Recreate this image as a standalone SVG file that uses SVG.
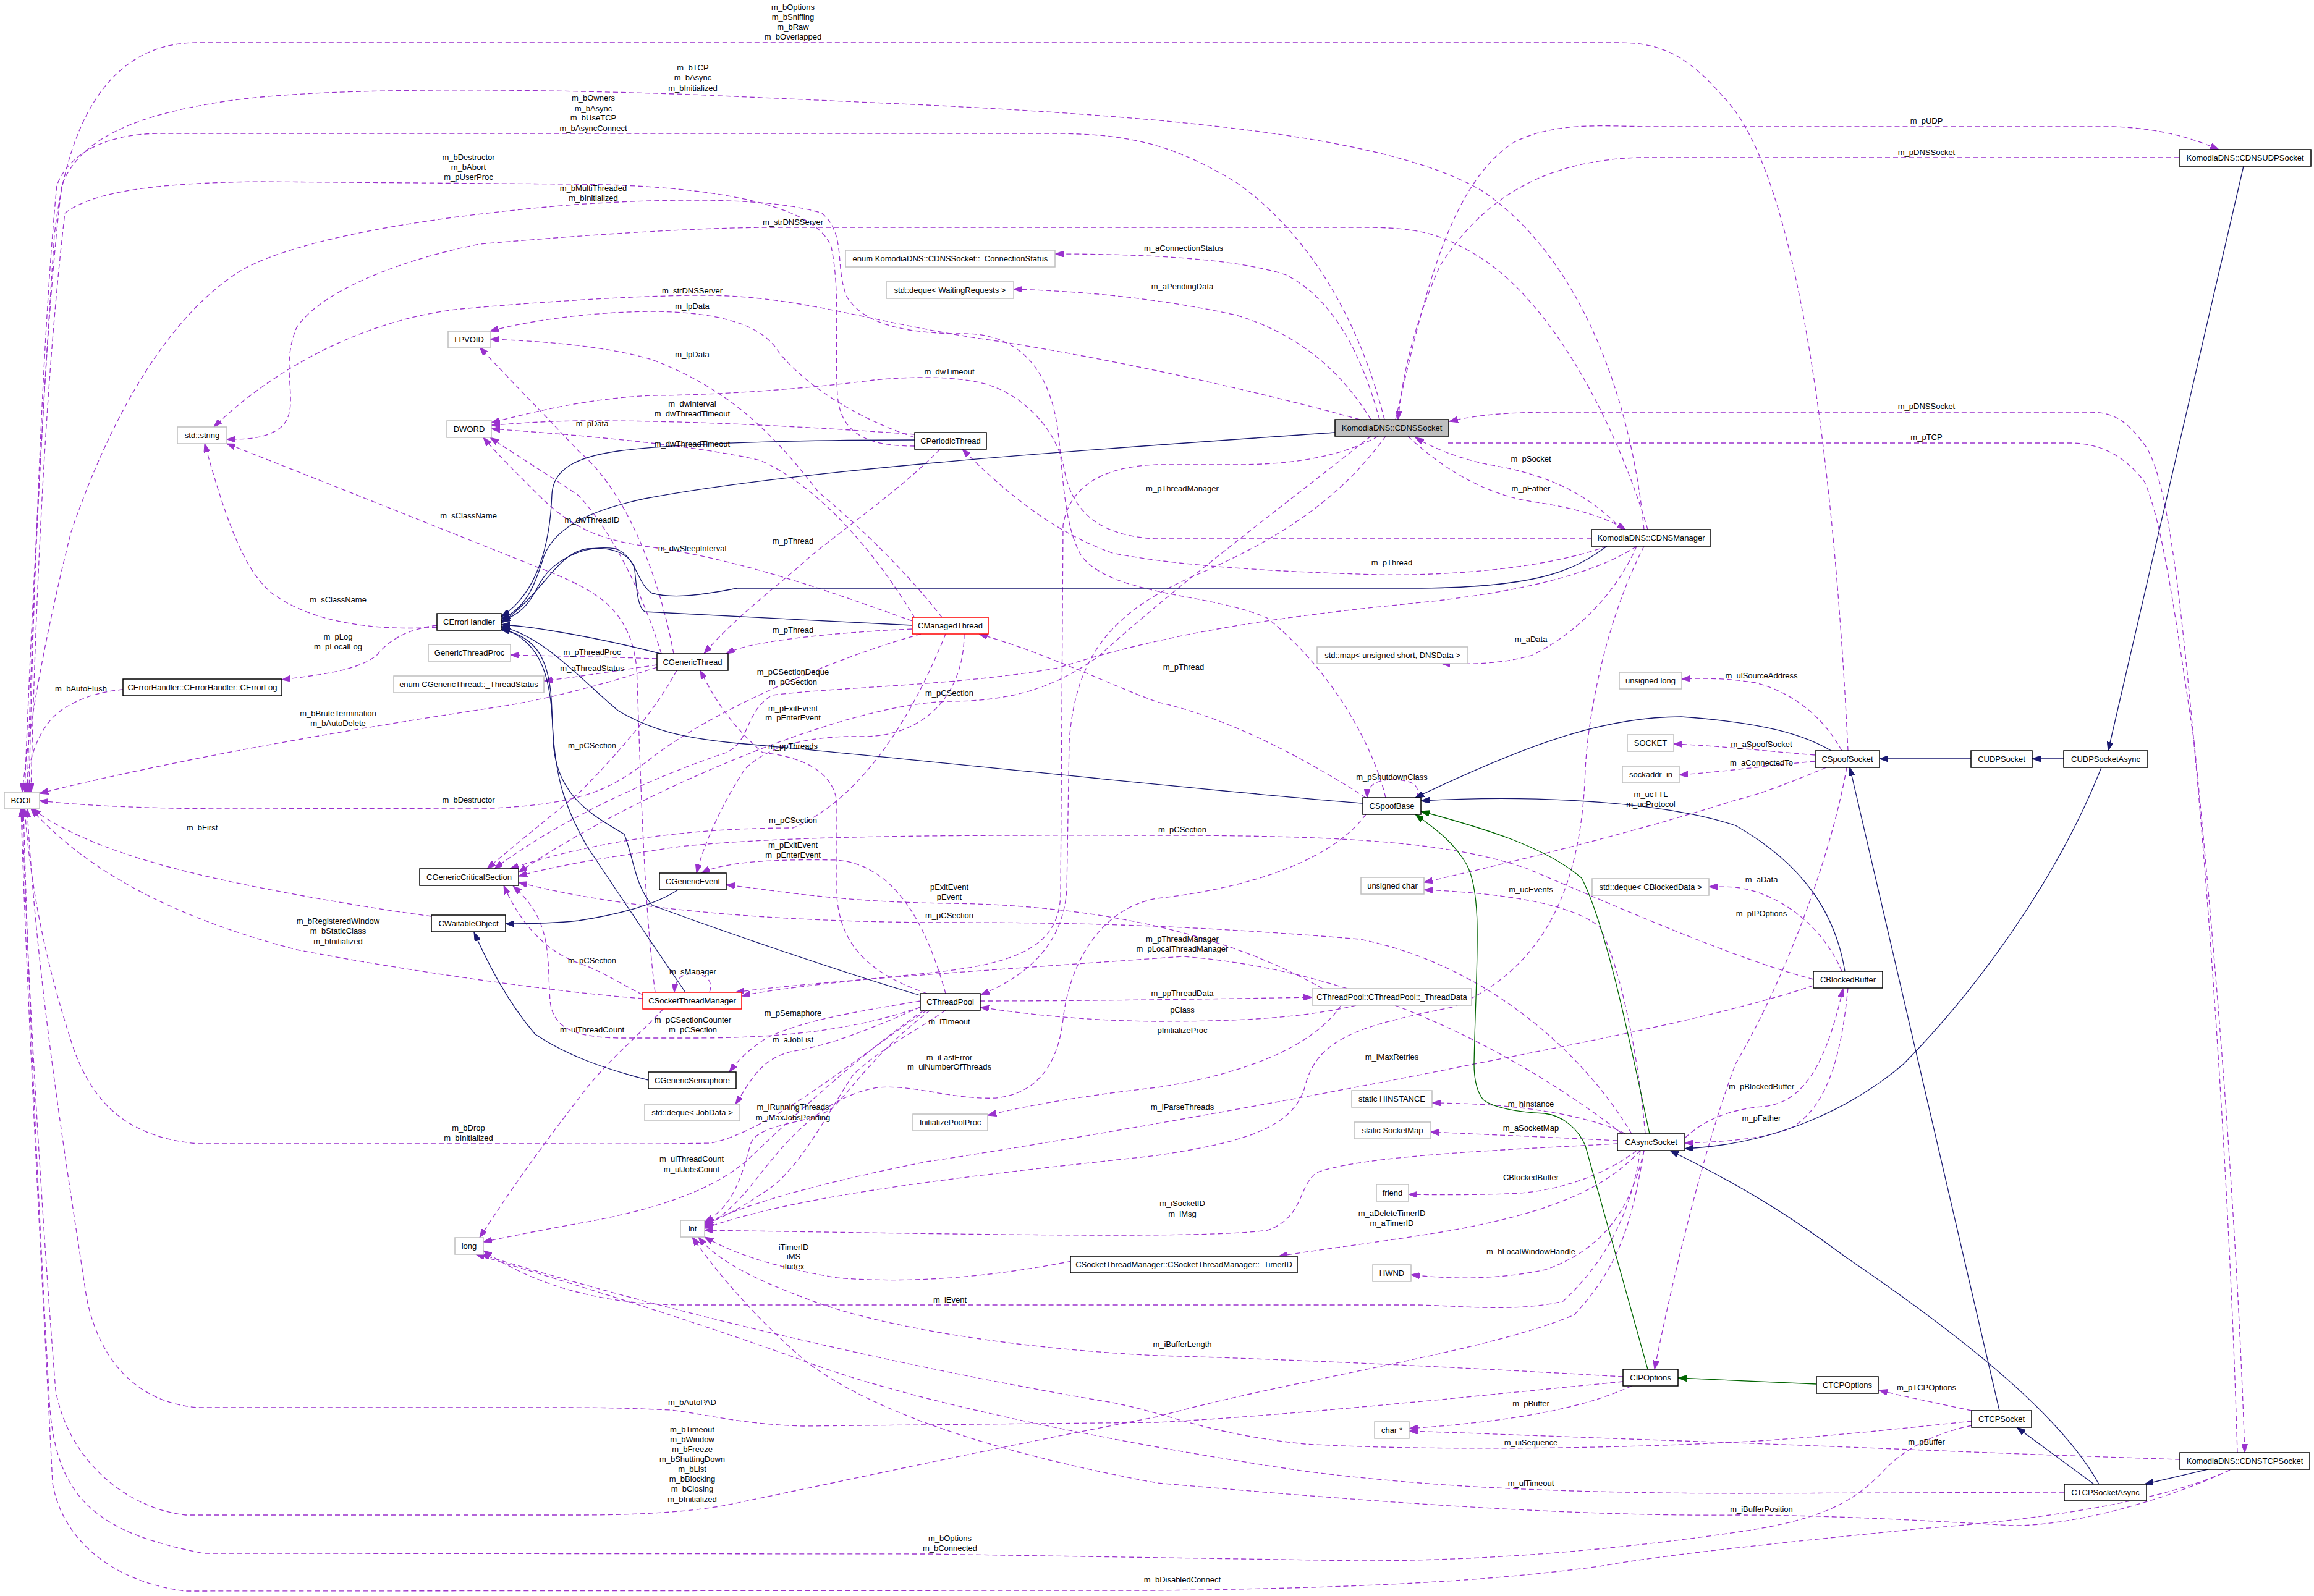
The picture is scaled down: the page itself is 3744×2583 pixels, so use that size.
<svg xmlns="http://www.w3.org/2000/svg" width="3744" height="2583" viewBox="0 0 3744 2583">
<style>
.n rect{fill:#fff;stroke:#000;stroke-width:1.5}
.n.u rect{stroke:#bfbfbf}
.n.r rect{stroke:#ff0000}
.n.s rect{fill:#bfbfbf}
text{font-family:"Liberation Sans",Arial,sans-serif;font-size:13px;fill:#000;text-anchor:middle}
.e{fill:none;stroke:#9a32cd;stroke-width:1.3;stroke-dasharray:8,5;marker-end:url(#ap)}
.b{fill:none;stroke:#191970;stroke-width:1.3;marker-end:url(#ab)}
.g{fill:none;stroke:#006400;stroke-width:1.3;marker-end:url(#ag)}
</style>
<defs>
<marker id="ap" viewBox="0 0 14 10" refX="14" refY="5" markerWidth="14" markerHeight="10" markerUnits="userSpaceOnUse" orient="auto"><path d="M0,0 L14,5 L0,10 z" fill="#9a32cd" stroke="#9a32cd" stroke-width="1"/></marker>
<marker id="ab" viewBox="0 0 14 10" refX="14" refY="5" markerWidth="14" markerHeight="10" markerUnits="userSpaceOnUse" orient="auto"><path d="M0,0 L14,5 L0,10 z" fill="#191970" stroke="#191970" stroke-width="1"/></marker>
<marker id="ag" viewBox="0 0 14 10" refX="14" refY="5" markerWidth="14" markerHeight="10" markerUnits="userSpaceOnUse" orient="auto"><path d="M0,0 L14,5 L0,10 z" fill="#006400" stroke="#006400" stroke-width="1"/></marker>
</defs>
<rect x="0" y="0" width="3744" height="2583" fill="#fff"/>
<g id="edges">
<path class="e" d="M2990,1215 C2975,900 2930,330 2800,170 C2740,100 2700,69 2620,69 L320,69 C180,69 110,190 88,380 C70,650 50,1000 40,1282"/>
<path class="e" d="M2660,857 C2640,650 2560,420 2400,310 C2250,220 1900,190 1500,170 L1121,153 C800,142 500,142 358,165 C230,185 130,220 100,300 C75,500 55,900 44,1282"/>
<path class="e" d="M2240,679 C2200,520 2120,380 2000,295 C1900,235 1830,216 1700,216 L260,216 C170,216 110,250 92,300 C72,500 55,900 47,1282"/>
<path class="e" d="M1480,722 C1400,722 1360,700 1355,640 C1350,560 1360,470 1345,400 C1320,330 1150,300 930,298 L420,294 C250,296 150,310 105,345 C75,600 58,950 50,1282"/>
<path class="e" d="M2242,1291 C2220,1200 2150,1080 2050,1000 C1960,960 1800,965 1750,900 C1720,850 1720,760 1712,700 C1700,600 1650,540 1560,540 C1480,540 1400,530 1370,480 C1350,430 1370,380 1330,345 C1250,320 1100,320 930,331 C700,350 480,385 388,439 C260,520 170,700 115,861 C80,1000 50,1150 36,1282"/>
<path class="e" d="M199,1116 C150,1120 100,1140 78,1170 C55,1200 45,1240 42,1282"/>
<path class="e" d="M1063,1080 C1000,1100 900,1130 800,1145 C600,1175 300,1225 64,1284"/>
<path class="e" d="M1490,1026 C1350,1065 1150,1150 1050,1230 C990,1275 950,1300 800,1308 L360,1309 C200,1308 120,1302 64,1296"/>
<path class="e" d="M698,1483 C600,1470 420,1440 300,1410 C180,1380 100,1345 52,1309"/>
<path class="e" d="M1040,1616 C900,1606 650,1570 480,1537 C300,1490 150,1420 50,1309"/>
<path class="e" d="M1500,1635 C1400,1700 1250,1830 1150,1850 C1050,1852 950,1851 900,1851 L320,1851 C200,1840 150,1780 120,1700 C80,1580 50,1450 40,1309"/>
<path class="e" d="M2660,1862 C2640,1980 2620,2050 2547,2128 C2400,2190 2100,2230 1872,2293 C1600,2345 1350,2400 1175,2436 C1100,2450 1000,2452 936,2452 L300,2452 C200,2440 110,2360 90,2250 C70,2000 45,1600 36,1309"/>
<path class="e" d="M2626,2236 C2400,2258 2100,2290 1872,2302 L1300,2308 C1200,2305 1150,2290 1085,2282 C1000,2278 950,2278 900,2278 L320,2278 C220,2270 160,2200 140,2100 C110,1900 60,1600 44,1309"/>
<path class="e" d="M3190,2307 C3130,2320 3080,2345 3047,2381 C3000,2430 2950,2460 2808,2480 C2600,2510 2400,2526 2200,2526 L1500,2515 L330,2514 C150,2480 90,2420 80,2270 C65,2000 45,1600 38,1309"/>
<path class="e" d="M3608,2379 C3500,2430 3300,2460 3107,2474 C2900,2495 2700,2515 2588,2535 C2400,2560 2200,2570 1872,2574 L300,2575 C180,2560 100,2490 85,2400 C70,2100 45,1650 34,1309"/>
<path class="e" d="M707,1015 C600,1022 500,1005 440,960 C390,920 360,820 331,718"/>
<path class="e" d="M1060,1606 C1040,1450 1035,1200 1030,1080 C1020,990 970,960 900,930 C750,870 550,790 367,718"/>
<path class="e" d="M2666,857 C2620,700 2520,500 2400,420 C2330,375 2290,368 2200,368 L1234,368 C1100,370 950,380 776,395 C650,420 520,470 480,530 C450,600 490,660 454,692 C430,710 400,711 367,711"/>
<path class="e" d="M2200,679 C2050,637 1800,580 1593,549 C1400,520 1300,480 1145,478 C1000,478 800,495 746,500 C600,515 450,590 346,691"/>
<path class="e" d="M1480,708 C1380,675 1300,620 1260,570 C1230,520 1150,505 1055,504 C950,505 850,520 793,536"/>
<path class="e" d="M1524,999 C1470,930 1400,860 1324,796 C1250,700 1180,630 1055,582 C980,560 880,552 793,549"/>
<path class="e" d="M1090,1058 C1070,950 1020,800 936,730 C880,670 830,620 776,562"/>
<path class="e" d="M2575,872 L1872,872 C1780,868 1735,830 1722,760 C1712,700 1660,640 1593,621 C1530,605 1450,612 1414,615 C1300,630 1150,640 1055,640 C950,645 870,665 795,684"/>
<path class="e" d="M1480,703 C1300,690 1100,680 936,681 C870,682 830,686 795,688"/>
<path class="e" d="M1480,1000 C1420,900 1330,790 1230,745 C1120,720 950,705 795,694"/>
<path class="e" d="M1476,1005 C1350,960 1200,905 1050,885 C960,872 920,850 866,796 C830,760 800,730 782,708"/>
<path class="e" d="M1070,1058 C1040,960 990,860 936,802 C890,770 840,740 793,708"/>
<path class="e" d="M707,1012 C660,1018 630,1035 610,1060 C580,1085 520,1092 456,1100"/>
<path class="e" d="M1063,1066 C980,1063 900,1062 826,1060"/>
<path class="e" d="M1063,1076 C1000,1085 940,1095 880,1102"/>
<path class="e" d="M1095,1085 C1060,1150 1000,1220 936,1284 C880,1330 830,1370 788,1406"/>
<path class="e" d="M2648,884 C2580,930 2450,960 2290,976 C2100,995 1900,1020 1712,1081 C1550,1110 1350,1112 1250,1125 C1205,1150 1215,1200 1175,1218 C1050,1260 900,1330 800,1406"/>
<path class="e" d="M2218,706 C2100,800 1900,950 1780,1060 C1700,1120 1620,1135 1536,1135 C1350,1140 1000,1300 839,1412"/>
<path class="e" d="M1530,1026 C1480,1150 1400,1290 1283,1340 C1100,1340 950,1365 825,1406"/>
<path class="e" d="M2640,1835 C2560,1700 2400,1560 2200,1520 C1900,1495 1700,1493 1536,1493 C1250,1493 1000,1470 839,1428"/>
<path class="e" d="M2934,1585 C2800,1550 2600,1460 2469,1405 C2350,1365 2200,1352 1872,1352 C1600,1352 1300,1350 1100,1370 C1000,1385 900,1400 839,1418"/>
<path class="e" d="M1040,1610 C1000,1590 970,1570 940,1560 C880,1540 840,1490 815,1433"/>
<path class="e" d="M1489,1630 C1400,1660 1300,1680 1121,1680 L1000,1680 C930,1678 895,1665 890,1620 C885,1550 895,1490 830,1434"/>
<path class="e" d="M1560,1026 C1560,1120 1500,1190 1400,1192 C1300,1190 1240,1210 1205,1245 C1175,1290 1140,1360 1127,1413"/>
<path class="e" d="M1530,1608 C1500,1500 1450,1400 1354,1392 C1250,1390 1170,1395 1135,1413"/>
<path class="e" d="M2140,1600 C2000,1520 1800,1465 1536,1462 C1350,1460 1250,1440 1175,1432"/>
<path class="e" d="M1521,727 C1450,800 1330,880 1294,916 C1230,970 1180,1010 1139,1058"/>
<path class="e" d="M1476,1018 C1380,1022 1280,1032 1240,1040 C1210,1045 1190,1050 1175,1058"/>
<path class="e" d="M1500,1608 C1420,1580 1360,1540 1354,1450 L1354,1300 C1350,1250 1300,1225 1234,1218 C1190,1180 1160,1140 1133,1085"/>
<path class="e" d="M2210,1291 C2100,1220 1980,1160 1872,1136 C1800,1110 1700,1060 1584,1026"/>
<path class="e" d="M2600,884 C2500,920 2350,932 2230,930 C2050,925 1900,915 1800,895 C1700,860 1620,790 1557,727"/>
<path class="e" d="M2625,1835 C2450,1700 2200,1570 1914,1548 C1600,1570 1300,1590 1190,1606"/>
<path class="e" d="M1148,1606 C1155,1585 1140,1576 1120,1576 C1100,1576 1092,1588 1091,1606"/>
<path class="e" d="M2230,706 C2150,750 2050,752 1991,752 L1872,752 C1780,755 1730,790 1720,850 L1716,1450 C1712,1530 1650,1560 1500,1575 C1400,1585 1250,1600 1200,1612"/>
<path class="e" d="M2242,706 C2180,790 2100,860 1932,932 C1800,990 1740,1060 1730,1200 L1726,1440 C1720,1530 1660,1580 1587,1610"/>
<path class="e" d="M1586,1620 C1750,1620 1950,1617 2123,1614"/>
<path class="e" d="M2194,1627 C2100,1650 1980,1653 1872,1653 C1750,1652 1650,1640 1586,1630"/>
<path class="e" d="M2170,1627 C2120,1700 2000,1740 1872,1760 C1780,1770 1680,1785 1598,1805"/>
<path class="e" d="M1489,1620 C1400,1635 1300,1650 1240,1680 C1210,1700 1195,1715 1180,1735"/>
<path class="e" d="M1489,1630 C1420,1660 1350,1690 1290,1700 C1230,1710 1215,1750 1190,1787"/>
<path class="e" d="M1505,1635 C1420,1700 1380,1760 1350,1790 C1320,1820 1230,1815 1215,1850 C1200,1900 1190,1950 1140,1978"/>
<path class="e" d="M1530,1635 C1480,1670 1420,1700 1380,1740 C1340,1800 1300,1880 1250,1920 C1200,1955 1170,1970 1140,1982"/>
<path class="e" d="M2210,1318 C2150,1400 2000,1440 1872,1454 C1780,1470 1730,1560 1720,1650 C1712,1720 1680,1770 1611,1777 C1540,1780 1480,1755 1420,1760 C1330,1775 1270,1850 1230,1900 C1200,1940 1170,1970 1140,1985"/>
<path class="e" d="M2660,884 C2600,1000 2570,1150 2565,1245 C2560,1400 2520,1560 2350,1630 C2200,1660 2130,1680 2111,1760 C2090,1830 2000,1850 1872,1870 C1600,1900 1300,1930 1140,1988"/>
<path class="e" d="M2617,1851 C2450,1860 2200,1870 2130,1898 C2100,1920 2110,1970 2051,1991 C1950,2005 1600,1998 1140,1991"/>
<path class="e" d="M1772,2033 C1650,2060 1500,2080 1354,2068 C1250,2050 1190,2030 1140,2002"/>
<path class="e" d="M2934,1595 C2800,1640 2600,1680 2385,1722 C2100,1780 1700,1850 1500,1880 C1350,1910 1230,1940 1140,1980"/>
<path class="e" d="M2626,2228 C2400,2215 2100,2200 1872,2194 C1600,2180 1400,2140 1300,2100 C1220,2070 1160,2040 1130,2002"/>
<path class="e" d="M3608,2379 C3500,2430 3350,2470 3256,2469 C3100,2460 2950,2452 2808,2452 C2500,2455 2100,2420 1872,2400 C1600,2350 1400,2280 1300,2200 C1220,2130 1160,2060 1120,2002"/>
<path class="e" d="M1073,1633 C1040,1670 990,1710 950,1760 C880,1850 830,1920 776,2003"/>
<path class="e" d="M1495,1635 C1400,1700 1290,1800 1211,1876 C1150,1930 1050,1960 936,1980 C880,1990 830,2000 782,2010"/>
<path class="e" d="M2654,1862 C2640,1960 2600,2040 2529,2106 C2450,2125 2350,2112 2290,2112 L1100,2112 C950,2110 850,2070 782,2024"/>
<path class="e" d="M3190,2300 C3050,2315 2900,2330 2808,2334 C2600,2345 2300,2348 2111,2337 C1950,2320 1900,2290 1800,2270 C1500,2220 1100,2130 778,2030"/>
<path class="e" d="M3340,2415 L2808,2417 C2500,2416 2300,2405 2111,2381 C1900,2350 1500,2280 1294,2200 C1100,2130 900,2070 770,2030"/>
<path class="e" d="M2640,2243 C2560,2280 2450,2300 2280,2312"/>
<path class="e" d="M3527,2362 C3300,2355 3000,2342 2808,2335 C2600,2328 2400,2320 2280,2316"/>
<path class="e" d="M3190,2283 C3130,2270 3080,2260 3040,2250"/>
<path class="e" d="M2232,679 C2200,560 2150,480 2081,445 C2000,418 1850,411 1707,411"/>
<path class="e" d="M2218,679 C2170,600 2100,540 2000,510 C1900,488 1780,472 1640,468"/>
<path class="e" d="M2624,857 C2580,810 2520,770 2409,752 C2350,740 2310,720 2290,708"/>
<path class="e" d="M2278,706 C2330,755 2400,800 2480,812 C2550,822 2600,838 2630,857"/>
<path class="e" d="M2258,679 C2300,500 2340,300 2450,230 C2520,195 2600,205 2680,205 L3420,205 C3500,208 3550,225 3590,242"/>
<path class="e" d="M3526,255 L2650,255 C2500,260 2400,320 2330,430 C2290,520 2270,600 2262,679"/>
<path class="e" d="M3620,2351 C3610,2000 3580,1500 3540,1100 C3520,900 3500,760 3470,720 C3440,680 3420,667 3380,667 L2500,667 C2420,668 2380,674 2345,682"/>
<path class="e" d="M2343,717 L3350,717 C3400,717 3440,740 3470,780 C3500,850 3520,1000 3550,1200 C3590,1600 3620,2000 3632,2351"/>
<path class="e" d="M2648,884 C2620,950 2560,1020 2480,1060 C2430,1075 2380,1075 2332,1074"/>
<path class="e" d="M2980,1215 C2950,1160 2900,1120 2840,1105 C2800,1098 2760,1097 2721,1099"/>
<path class="e" d="M2937,1222 C2850,1215 2780,1207 2708,1204"/>
<path class="e" d="M2937,1232 C2850,1240 2780,1250 2717,1254"/>
<path class="e" d="M2955,1242 C2900,1265 2850,1285 2808,1295 C2650,1345 2470,1390 2304,1428"/>
<path class="e" d="M2988,1242 C2960,1400 2880,1600 2808,1722 C2760,1850 2710,2050 2677,2216"/>
<path class="e" d="M2662,1835 C2650,1700 2620,1560 2588,1500 C2540,1460 2420,1445 2304,1440"/>
<path class="e" d="M2980,1572 C2950,1500 2880,1445 2808,1436 C2790,1435 2780,1435 2765,1435"/>
<path class="e" d="M2990,1599 C2980,1700 2960,1790 2897,1826 C2850,1845 2780,1848 2726,1850"/>
<path class="e" d="M2726,1842 C2760,1810 2800,1795 2860,1790 C2920,1780 2955,1720 2982,1600"/>
<path class="e" d="M2630,1835 C2580,1810 2500,1795 2409,1788 C2370,1786 2340,1785 2317,1785"/>
<path class="e" d="M2617,1846 C2500,1840 2400,1836 2314,1832"/>
<path class="e" d="M2648,1862 C2600,1900 2520,1930 2439,1932 C2380,1934 2320,1934 2279,1933"/>
<path class="e" d="M2654,1862 C2600,1920 2520,1960 2350,1991 C2250,2008 2150,2020 2069,2033"/>
<path class="e" d="M2660,1862 C2640,1950 2600,2020 2500,2055 C2420,2072 2340,2070 2283,2063"/>
<path class="e" d="M2292,1291 C2300,1268 2280,1262 2252,1262 C2225,1262 2212,1272 2212,1291"/>
<path class="b" d="M1480,712 C1300,712 1100,717 1000,730 C930,740 895,760 893,800 C890,880 870,960 811,998"/>
<path class="b" d="M2160,700 C1800,725 1300,758 1043,807 C960,825 900,850 880,900 C865,950 850,985 811,1002"/>
<path class="b" d="M2600,884 C2550,920 2500,950 2300,952 L1193,952 C1140,962 1091,970 1055,960 C1030,945 1030,900 996,888 C940,880 890,910 870,950 C855,980 840,995 811,1005"/>
<path class="b" d="M1476,1012 L1043,990 C1029,980 1030,940 1026,916 C1015,895 990,885 950,888 C900,895 880,960 811,1008"/>
<path class="b" d="M1073,1059 C1000,1040 936,1028 900,1022 C860,1015 830,1012 811,1011"/>
<path class="b" d="M2205,1300 C2000,1285 1500,1230 1205,1204 C1100,1195 1050,1180 1000,1150 C940,1100 880,1030 811,1014"/>
<path class="b" d="M1489,1611 C1350,1570 1150,1500 1055,1465 C1026,1430 1026,1390 1010,1350 C960,1320 900,1290 895,1200 C893,1100 880,1040 811,1016"/>
<path class="b" d="M1109,1606 C1050,1520 990,1430 950,1370 C910,1300 896,1250 893,1150 C891,1070 870,1030 811,1019"/>
<path class="b" d="M1097,1440 C1060,1465 1000,1480 936,1490 C890,1495 850,1495 818,1495"/>
<path class="b" d="M1049,1748 C980,1730 920,1710 866,1674 C820,1620 790,1560 767,1509"/>
<path class="b" d="M2963,1215 C2920,1190 2860,1170 2720,1160 C2600,1160 2480,1200 2290,1291"/>
<path class="b" d="M2985,1572 C2970,1480 2920,1400 2808,1336 C2700,1300 2500,1285 2299,1296"/>
<path class="b" d="M3189,1228 L3041,1228"/>
<path class="b" d="M3339,1228 L3288,1228"/>
<path class="b" d="M3400,1242 C3330,1420 3200,1600 3080,1722 C3000,1790 2880,1851 2726,1859"/>
<path class="b" d="M3235,2283 L2993,1242"/>
<path class="b" d="M3388,2402 L3263,2310"/>
<path class="b" d="M3396,2402 C3340,2300 3200,2180 2987,2035 C2900,1970 2820,1920 2702,1862"/>
<path class="b" d="M3630,269 L3411,1215"/>
<path class="b" d="M3572,2378 L3470,2402"/>
<path class="g" d="M2669,1835 C2640,1700 2600,1500 2559,1421 C2500,1370 2400,1340 2299,1313"/>
<path class="g" d="M2666,2216 L2565,1854 C2555,1830 2530,1805 2499,1802 C2460,1800 2420,1795 2400,1780 C2388,1765 2385,1740 2385,1722 C2388,1560 2400,1450 2373,1399 C2350,1360 2320,1340 2290,1318"/>
<path class="g" d="M2939,2240 L2715,2230"/>
</g>
<g id="edge-labels">
<text x="1283"><tspan x="1283" y="16">m_bOptions</tspan><tspan x="1283" y="32">m_bSniffing</tspan><tspan x="1283" y="48">m_bRaw</tspan><tspan x="1283" y="64">m_bOverlapped</tspan></text>
<text><tspan x="1121" y="114">m_bTCP</tspan><tspan x="1121" y="130">m_bAsync</tspan><tspan x="1121" y="147">m_bInitialized</tspan></text>
<text><tspan x="960" y="163">m_bOwners</tspan><tspan x="960" y="180">m_bAsync</tspan><tspan x="960" y="195">m_bUseTCP</tspan><tspan x="960" y="212">m_bAsyncConnect</tspan></text>
<text><tspan x="758" y="259">m_bDestructor</tspan><tspan x="758" y="275">m_bAbort</tspan><tspan x="758" y="291">m_pUserProc</tspan></text>
<text><tspan x="960" y="309">m_bMultiThreaded</tspan><tspan x="960" y="325">m_bInitialized</tspan></text>
<text x="1283" y="364">m_strDNSServer</text>
<text x="1120" y="475">m_strDNSServer</text>
<text x="1120" y="500">m_lpData</text>
<text x="1120" y="578">m_lpData</text>
<text x="1536" y="606">m_dwTimeout</text>
<text><tspan x="1120" y="658">m_dwInterval</tspan><tspan x="1120" y="674">m_dwThreadTimeout</tspan></text>
<text x="958" y="690">m_pData</text>
<text x="1120" y="723">m_dwThreadTimeout</text>
<text x="958" y="846">m_dwThreadID</text>
<text x="1915" y="406">m_aConnectionStatus</text>
<text x="1913" y="468">m_aPendingData</text>
<text x="2477" y="747">m_pSocket</text>
<text x="2477" y="795">m_pFather</text>
<text x="1913" y="795">m_pThreadManager</text>
<text x="3117" y="200">m_pUDP</text>
<text x="3117" y="251">m_pDNSSocket</text>
<text x="3117" y="662">m_pDNSSocket</text>
<text x="3117" y="712">m_pTCP</text>
<text x="547" y="975">m_sClassName</text>
<text x="758" y="839">m_sClassName</text>
<text><tspan x="547" y="1035">m_pLog</tspan><tspan x="547" y="1051">m_pLocalLog</tspan></text>
<text x="131" y="1119">m_bAutoFlush</text>
<text><tspan x="547" y="1159">m_bBruteTermination</tspan><tspan x="547" y="1175">m_bAutoDelete</tspan></text>
<text x="758" y="1299">m_bDestructor</text>
<text x="327" y="1344">m_bFirst</text>
<text><tspan x="547" y="1495">m_bRegisteredWindow</tspan><tspan x="547" y="1511">m_bStaticClass</tspan><tspan x="547" y="1528">m_bInitialized</tspan></text>
<text x="958" y="1060">m_pThreadProc</text>
<text x="958" y="1086">m_aThreadStatus</text>
<text x="958" y="1211">m_pCSection</text>
<text x="958" y="1559">m_pCSection</text>
<text x="958" y="1671">m_ulThreadCount</text>
<text x="1120" y="892">m_dwSleepInterval</text>
<text x="1283" y="880">m_pThread</text>
<text x="1283" y="1024">m_pThread</text>
<text><tspan x="1283" y="1092">m_pCSectionDeque</tspan><tspan x="1283" y="1108">m_pCSection</tspan></text>
<text x="1536" y="1126">m_pCSection</text>
<text><tspan x="1283" y="1151">m_pExitEvent</tspan><tspan x="1283" y="1166">m_pEnterEvent</tspan></text>
<text x="1283" y="1212">m_ppThreads</text>
<text x="1283" y="1332">m_pCSection</text>
<text><tspan x="1283" y="1372">m_pExitEvent</tspan><tspan x="1283" y="1388">m_pEnterEvent</tspan></text>
<text><tspan x="1536" y="1440">pExitEvent</tspan><tspan x="1536" y="1456">pEvent</tspan></text>
<text x="1536" y="1486">m_pCSection</text>
<text x="1121" y="1577">m_sManager</text>
<text><tspan x="1121" y="1655">m_pCSectionCounter</tspan><tspan x="1121" y="1671">m_pCSection</tspan></text>
<text x="1283" y="1644">m_pSemaphore</text>
<text x="1536" y="1658">m_iTimeout</text>
<text x="1283" y="1687">m_aJobList</text>
<text><tspan x="1536" y="1716">m_iLastError</tspan><tspan x="1536" y="1731">m_ulNumberOfThreads</tspan></text>
<text><tspan x="1913" y="1524">m_pThreadManager</tspan><tspan x="1913" y="1540">m_pLocalThreadManager</tspan></text>
<text x="1913" y="1612">m_ppThreadData</text>
<text x="2252" y="915">m_pThread</text>
<text x="1915" y="1084">m_pThread</text>
<text x="2477" y="1039">m_aData</text>
<text x="2850" y="1098">m_ulSourceAddress</text>
<text x="2850" y="1209">m_aSpoofSocket</text>
<text x="2850" y="1239">m_aConnectedTo</text>
<text x="2252" y="1262">m_pShutdownClass</text>
<text><tspan x="2671" y="1290">m_ucTTL</tspan><tspan x="2671" y="1306">m_ucProtocol</tspan></text>
<text x="1913" y="1347">m_pCSection</text>
<text x="2477" y="1444">m_ucEvents</text>
<text x="1913" y="1639">pClass</text>
<text x="1913" y="1672">pInitializeProc</text>
<text x="2252" y="1715">m_iMaxRetries</text>
<text x="2850" y="1428">m_aData</text>
<text x="2850" y="1483">m_pIPOptions</text>
<text><tspan x="758" y="1830">m_bDrop</tspan><tspan x="758" y="1846">m_bInitialized</tspan></text>
<text><tspan x="1283" y="1796">m_iRunningThreads</tspan><tspan x="1283" y="1813">m_iMaxJobsPending</tspan></text>
<text><tspan x="1119" y="1880">m_ulThreadCount</tspan><tspan x="1119" y="1897">m_ulJobsCount</tspan></text>
<text><tspan x="1284" y="2023">iTimerID</tspan><tspan x="1284" y="2038">iMS</tspan><tspan x="1284" y="2054">iIndex</tspan></text>
<text x="1537" y="2108">m_lEvent</text>
<text x="1120" y="2274">m_bAutoPAD</text>
<text><tspan x="1120" y="2318">m_bTimeout</tspan><tspan x="1120" y="2334">m_bWindow</tspan><tspan x="1120" y="2350">m_bFreeze</tspan><tspan x="1120" y="2366">m_bShuttingDown</tspan><tspan x="1120" y="2382">m_bList</tspan><tspan x="1120" y="2398">m_bBlocking</tspan><tspan x="1120" y="2414">m_bClosing</tspan><tspan x="1120" y="2431">m_bInitialized</tspan></text>
<text><tspan x="1537" y="2494">m_bOptions</tspan><tspan x="1537" y="2510">m_bConnected</tspan></text>
<text x="1913" y="2561">m_bDisabledConnect</text>
<text x="1913" y="1796">m_iParseThreads</text>
<text x="2477" y="1791">m_hInstance</text>
<text x="2477" y="1830">m_aSocketMap</text>
<text x="2477" y="1910">CBlockedBuffer</text>
<text><tspan x="1913" y="1952">m_iSocketID</tspan><tspan x="1913" y="1969">m_iMsg</tspan></text>
<text><tspan x="2252" y="1968">m_aDeleteTimerID</tspan><tspan x="2252" y="1984">m_aTimerID</tspan></text>
<text x="2477" y="2030">m_hLocalWindowHandle</text>
<text x="1913" y="2180">m_iBufferLength</text>
<text x="2477" y="2276">m_pBuffer</text>
<text x="2477" y="2339">m_uiSequence</text>
<text x="2477" y="2405">m_ulTimeout</text>
<text x="2850" y="2447">m_iBufferPosition</text>
<text x="2850" y="1763">m_pBlockedBuffer</text>
<text x="2850" y="1814">m_pFather</text>
<text x="3117" y="2250">m_pTCPOptions</text>
<text x="3117" y="2338">m_pBuffer</text>
</g>
<g id="nodes">
<g id="n_BOOL" class="n u"><rect x="7" y="1282" width="57" height="27"/><text x="35.5" y="1300">BOOL</text></g>
<g id="n_string" class="n u"><rect x="287" y="691" width="80" height="27"/><text x="327" y="709">std::string</text></g>
<g id="n_LPVOID" class="n u"><rect x="725" y="536" width="68" height="27"/><text x="759" y="554">LPVOID</text></g>
<g id="n_DWORD" class="n u"><rect x="723" y="681" width="72" height="27"/><text x="759" y="699">DWORD</text></g>
<g id="n_CErrorHandler" class="n"><rect x="707" y="993" width="104" height="27"/><text x="759" y="1011">CErrorHandler</text></g>
<g id="n_GenericThreadProc" class="n u"><rect x="693" y="1043" width="133" height="27"/><text x="759.5" y="1061">GenericThreadProc</text></g>
<g id="n_CErrorLog" class="n"><rect x="199" y="1099" width="257" height="27"/><text x="327.5" y="1117">CErrorHandler::CErrorHandler::CErrorLog</text></g>
<g id="n_ThreadStatus" class="n u"><rect x="637" y="1094" width="243" height="27"/><text x="758.5" y="1112">enum CGenericThread::_ThreadStatus</text></g>
<g id="n_CGenericCriticalSection" class="n"><rect x="679" y="1406" width="160" height="27"/><text x="759" y="1424">CGenericCriticalSection</text></g>
<g id="n_CWaitableObject" class="n"><rect x="698" y="1481" width="120" height="27"/><text x="758" y="1499">CWaitableObject</text></g>
<g id="n_long" class="n u"><rect x="736" y="2003" width="46" height="27"/><text x="759" y="2021">long</text></g>
<g id="n_CGenericThread" class="n"><rect x="1063" y="1058" width="115" height="27"/><text x="1120.5" y="1076">CGenericThread</text></g>
<g id="n_CGenericEvent" class="n"><rect x="1067" y="1413" width="108" height="27"/><text x="1121" y="1431">CGenericEvent</text></g>
<g id="n_CSocketThreadManager" class="n r"><rect x="1040" y="1606" width="160" height="27"/><text x="1120" y="1624">CSocketThreadManager</text></g>
<g id="n_CGenericSemaphore" class="n"><rect x="1049" y="1735" width="142" height="27"/><text x="1120" y="1753">CGenericSemaphore</text></g>
<g id="n_dequeJobData" class="n u"><rect x="1043" y="1787" width="154" height="27"/><text x="1120" y="1805">std::deque&lt; JobData &gt;</text></g>
<g id="n_int" class="n u"><rect x="1101" y="1975" width="39" height="27"/><text x="1120.5" y="1993">int</text></g>
<g id="n_CPeriodicThread" class="n"><rect x="1480" y="700" width="116" height="27"/><text x="1538" y="718">CPeriodicThread</text></g>
<g id="n_CManagedThread" class="n r"><rect x="1476" y="999" width="123" height="27"/><text x="1537.5" y="1017">CManagedThread</text></g>
<g id="n_CThreadPool" class="n"><rect x="1489" y="1608" width="97" height="27"/><text x="1537.5" y="1626">CThreadPool</text></g>
<g id="n_InitializePoolProc" class="n u"><rect x="1477" y="1803" width="121" height="27"/><text x="1537.5" y="1821">InitializePoolProc</text></g>
<g id="n_ConnectionStatus" class="n u"><rect x="1368" y="405" width="339" height="27"/><text x="1537.5" y="423">enum KomodiaDNS::CDNSSocket::_ConnectionStatus</text></g>
<g id="n_dequeWaiting" class="n u"><rect x="1434" y="456" width="206" height="27"/><text x="1537" y="474">std::deque&lt; WaitingRequests &gt;</text></g>
<g id="n_TimerID" class="n"><rect x="1732" y="2033" width="367" height="27"/><text x="1915.5" y="2051">CSocketThreadManager::CSocketThreadManager::_TimerID</text></g>
<g id="n_CDNSSocket" class="n s"><rect x="2160" y="679" width="184" height="27"/><text x="2252" y="697">KomodiaDNS::CDNSSocket</text></g>
<g id="n_map" class="n u"><rect x="2131" y="1047" width="244" height="27"/><text x="2253" y="1065">std::map&lt; unsigned short, DNSData &gt;</text></g>
<g id="n_CSpoofBase" class="n"><rect x="2205" y="1291" width="94" height="27"/><text x="2252" y="1309">CSpoofBase</text></g>
<g id="n_uchar" class="n u"><rect x="2202" y="1420" width="102" height="27"/><text x="2253" y="1438">unsigned char</text></g>
<g id="n_ThreadData" class="n u"><rect x="2123" y="1600" width="258" height="27"/><text x="2252" y="1618">CThreadPool::CThreadPool::_ThreadData</text></g>
<g id="n_HINSTANCE" class="n u"><rect x="2187" y="1765" width="130" height="27"/><text x="2252" y="1783">static HINSTANCE</text></g>
<g id="n_SocketMap" class="n u"><rect x="2191" y="1816" width="124" height="27"/><text x="2253" y="1834">static SocketMap</text></g>
<g id="n_friend" class="n u"><rect x="2227" y="1917" width="52" height="27"/><text x="2253" y="1935">friend</text></g>
<g id="n_HWND" class="n u"><rect x="2221" y="2047" width="62" height="27"/><text x="2252" y="2065">HWND</text></g>
<g id="n_charp" class="n u"><rect x="2224" y="2301" width="56" height="27"/><text x="2252" y="2319">char *</text></g>
<g id="n_CDNSManager" class="n"><rect x="2575" y="857" width="193" height="27"/><text x="2671.5" y="875">KomodiaDNS::CDNSManager</text></g>
<g id="n_ulong" class="n u"><rect x="2620" y="1088" width="101" height="27"/><text x="2670.5" y="1106">unsigned long</text></g>
<g id="n_SOCKET" class="n u"><rect x="2633" y="1189" width="75" height="27"/><text x="2670.5" y="1207">SOCKET</text></g>
<g id="n_sockaddr" class="n u"><rect x="2625" y="1240" width="92" height="27"/><text x="2671" y="1258">sockaddr_in</text></g>
<g id="n_dequeBlocked" class="n u"><rect x="2576" y="1422" width="189" height="27"/><text x="2670.5" y="1440">std::deque&lt; CBlockedData &gt;</text></g>
<g id="n_CAsyncSocket" class="n"><rect x="2617" y="1835" width="109" height="27"/><text x="2671.5" y="1853">CAsyncSocket</text></g>
<g id="n_CIPOptions" class="n"><rect x="2626" y="2216" width="89" height="27"/><text x="2670.5" y="2234">CIPOptions</text></g>
<g id="n_CSpoofSocket" class="n"><rect x="2937" y="1215" width="104" height="27"/><text x="2989" y="1233">CSpoofSocket</text></g>
<g id="n_CBlockedBuffer" class="n"><rect x="2934" y="1572" width="112" height="27"/><text x="2990" y="1590">CBlockedBuffer</text></g>
<g id="n_CTCPOptions" class="n"><rect x="2939" y="2228" width="100" height="27"/><text x="2989" y="2246">CTCPOptions</text></g>
<g id="n_CUDPSocket" class="n"><rect x="3189" y="1215" width="99" height="27"/><text x="3238.5" y="1233">CUDPSocket</text></g>
<g id="n_CTCPSocket" class="n"><rect x="3190" y="2283" width="97" height="27"/><text x="3238.5" y="2301">CTCPSocket</text></g>
<g id="n_CUDPSocketAsync" class="n"><rect x="3339" y="1215" width="136" height="27"/><text x="3407" y="1233">CUDPSocketAsync</text></g>
<g id="n_CTCPSocketAsync" class="n"><rect x="3340" y="2402" width="133" height="27"/><text x="3406.5" y="2420">CTCPSocketAsync</text></g>
<g id="n_CDNSUDPSocket" class="n"><rect x="3526" y="242" width="213" height="27"/><text x="3632.5" y="260">KomodiaDNS::CDNSUDPSocket</text></g>
<g id="n_CDNSTCPSocket" class="n"><rect x="3527" y="2351" width="210" height="27"/><text x="3632" y="2369">KomodiaDNS::CDNSTCPSocket</text></g>
</g>
</svg>
